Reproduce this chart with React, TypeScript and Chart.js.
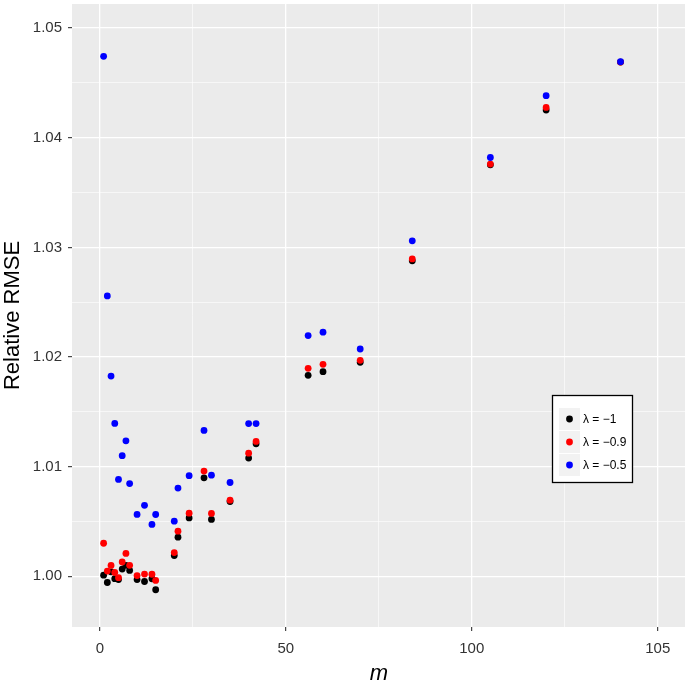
import React, { useEffect, useRef } from 'react';
import { Chart, registerables } from 'chart.js';

Chart.register(...registerables);

// ---- data ----
const mValues = [1, 2, 3, 4, 5, 6, 7, 8, 10, 12, 14, 15, 20, 21, 24, 28, 30, 35, 40, 42, 56, 60, 70, 84, 105, 120, 140];

const rmseLambdaMinus1 = [1.0001, 0.99943, 1.0004, 0.99978, 0.9997, 1.00065, 1.001, 1.00053, 0.9997, 0.99952, 0.99977, 0.99877, 1.00189, 1.00356, 1.00532, 1.00898, 1.00518, 1.00682, 1.01078, 1.01208, 1.01833, 1.01866, 1.01952, 1.02877, 1.03753, 1.04253, 1.0469];

const rmseLambdaMinus09 = [1.00301, 1.00047, 1.00099, 1.00034, 0.99987, 1.0013, 1.00208, 1.001, 1.00006, 1.0002, 1.00018, 0.99962, 1.00216, 1.00411, 1.00575, 1.00959, 1.00573, 1.00694, 1.01123, 1.0123, 1.01897, 1.01933, 1.0197, 1.02895, 1.0376, 1.04277, 1.0469];

const rmseLambdaMinus05 = [1.04743, 1.02557, 1.01826, 1.01394, 1.00883, 1.011, 1.01235, 1.00845, 1.00564, 1.00647, 1.00473, 1.00563, 1.00502, 1.00804, 1.00917, 1.0133, 1.00922, 1.00855, 1.01393, 1.01393, 1.02195, 1.02226, 1.02073, 1.0306, 1.0382, 1.04384, 1.04694];

const seriesLabels = ['λ = −1', 'λ = −0.9', 'λ = −0.5'];
const seriesColors = ['#000000', '#FF0000', '#0000FF'];

const xMajorTicks = [0, 50, 100, 150];
const xTickLabels = ['0', '50', '100', '105'];
const xMinorTicks = [25, 75, 125];
const yMajorTicks = [1.0, 1.01, 1.02, 1.03, 1.04, 1.05];
const yTickLabels = ['1.00', '1.01', '1.02', '1.03', '1.04', '1.05'];
const yMinorTicks = [1.005, 1.015, 1.025, 1.035, 1.045];

const FONT = "'Liberation Sans', Arial, Helvetica, sans-serif";

function isMajor(list: number[], v: number) {
  return list.some((t) => Math.abs(t - v) < 1e-9);
}

const panelBg = {
  id: 'panelBg',
  beforeDraw(chart: any) {
    const { ctx, chartArea } = chart;
    ctx.save();
    ctx.fillStyle = '#EBEBEB';
    ctx.fillRect(chartArea.left, chartArea.top, chartArea.right - chartArea.left + 4, chartArea.bottom - chartArea.top);
    ctx.restore();
  },
};

const customLegend = {
  id: 'customLegend',
  afterDraw(chart: any) {
    const { ctx } = chart;
    const bx = 552.5, by = 395.5, bw = 80, bh = 87;
    ctx.save();
    ctx.fillStyle = '#FFFFFF';
    ctx.fillRect(bx, by, bw, bh);
    ctx.strokeStyle = '#000000';
    ctx.lineWidth = 1.3;
    ctx.strokeRect(bx, by, bw, bh);
    const keyX = 559, keyW = 21, keyH = 22;
    const rowsTop = [408, 431, 454];
    seriesLabels.forEach((label, i) => {
      const ky = rowsTop[i];
      ctx.fillStyle = '#F2F2F2';
      ctx.fillRect(keyX, ky, keyW, keyH);
      ctx.beginPath();
      ctx.fillStyle = seriesColors[i];
      ctx.arc(keyX + keyW / 2, ky + keyH / 2, 3.4, 0, Math.PI * 2);
      ctx.fill();
      ctx.fillStyle = '#000000';
      ctx.font = `12px ${FONT}`;
      ctx.textAlign = 'left';
      ctx.textBaseline = 'middle';
      ctx.fillText(label, 583, ky + keyH / 2 + 0.5);
    });
    ctx.restore();
  },
};

function zeroPadding(scale: any) {
  scale.paddingTop = 0;
  scale.paddingBottom = 0;
  scale.paddingLeft = 0;
  scale.paddingRight = 0;
}

export default function App() {
  const canvasRef = useRef<HTMLCanvasElement | null>(null);

  useEffect(() => {
    const canvas = canvasRef.current;
    if (!canvas) return;
    const seriesData = [rmseLambdaMinus1, rmseLambdaMinus09, rmseLambdaMinus05];
    const datasets = seriesData.map((arr, i) => ({
      label: seriesLabels[i],
      data: mValues.map((m, j) => ({ x: m, y: arr[j] })),
      pointRadius: 3.4,
      pointHoverRadius: 3.4,
      pointBackgroundColor: seriesColors[i],
      pointBorderWidth: 0,
      borderWidth: 0,
      showLine: false,
      order: 3 - i,
    }));

    const chart = new Chart(canvas, {
      type: 'scatter',
      data: { datasets },
      options: {
        animation: false,
        responsive: false,
        maintainAspectRatio: false,
        layout: { padding: { top: 4, right: 0, left: 0, bottom: 0 } },
        plugins: {
          legend: { display: false },
          tooltip: { enabled: false },
        },
        scales: {
          x: {
            type: 'linear',
            min: -7.5,
            max: 157.5,
            afterBuildTicks: (scale: any) => {
              scale.ticks = [...xMajorTicks, ...xMinorTicks].sort((a, b) => a - b).map((v) => ({ value: v }));
            },
            afterFit: (scale: any) => {
              scale.height = 58;
              zeroPadding(scale);
            },
            border: { display: false },
            grid: {
              color: '#FFFFFF',
              lineWidth: (ctx: any) => (isMajor(xMajorTicks, ctx.tick?.value) ? 1.3 : 0.6),
              drawTicks: true,
              tickLength: 4,
              tickWidth: 1.1,
              tickColor: (ctx: any) => (isMajor(xMajorTicks, ctx.tick?.value) ? '#333333' : 'rgba(0,0,0,0)'),
            },
            ticks: {
              autoSkip: false,
              maxRotation: 0,
              padding: 9,
              color: '#333333',
              font: { family: FONT, size: 15 },
              callback: (value: any) => {
                const idx = xMajorTicks.findIndex((t) => Math.abs(t - value) < 1e-9);
                return idx >= 0 ? xTickLabels[idx] : '';
              },
            },
            title: {
              display: true,
              text: 'm',
              color: '#000000',
              font: { family: FONT, size: 22, style: 'italic', lineHeight: 1.0 },
              padding: { top: 0, bottom: 0 },
            },
          },
          y: {
            type: 'linear',
            min: 0.99537,
            max: 1.0522,
            afterBuildTicks: (scale: any) => {
              scale.ticks = [...yMajorTicks, ...yMinorTicks].sort((a, b) => a - b).map((v) => ({ value: v }));
            },
            afterFit: (scale: any) => {
              scale.width = 72;
              zeroPadding(scale);
            },
            border: { display: false },
            grid: {
              color: '#FFFFFF',
              lineWidth: (ctx: any) => (isMajor(yMajorTicks, ctx.tick?.value) ? 1.3 : 0.6),
              drawTicks: true,
              tickLength: 4,
              tickWidth: 1.1,
              tickColor: (ctx: any) => (isMajor(yMajorTicks, ctx.tick?.value) ? '#333333' : 'rgba(0,0,0,0)'),
            },
            ticks: {
              autoSkip: false,
              padding: 6,
              color: '#333333',
              font: { family: FONT, size: 15 },
              callback: (value: any) => {
                const idx = yMajorTicks.findIndex((t) => Math.abs(t - value) < 1e-9);
                return idx >= 0 ? yTickLabels[idx] : '';
              },
            },
            title: {
              display: true,
              text: 'Relative RMSE',
              color: '#000000',
              font: { family: FONT, size: 22 },
              padding: { top: 0, bottom: 0 },
            },
          },
        },
      },
      plugins: [panelBg, customLegend],
    } as any);

    return () => {
      chart.destroy();
    };
  }, []);

  return (
    <div style={{ position: 'fixed', left: 0, top: 0, width: 685, height: 685, overflow: 'hidden', background: '#FFFFFF' }}>
      <canvas ref={canvasRef} width={689} height={685} style={{ display: 'block', width: 689, height: 685 }} />
    </div>
  );
}
